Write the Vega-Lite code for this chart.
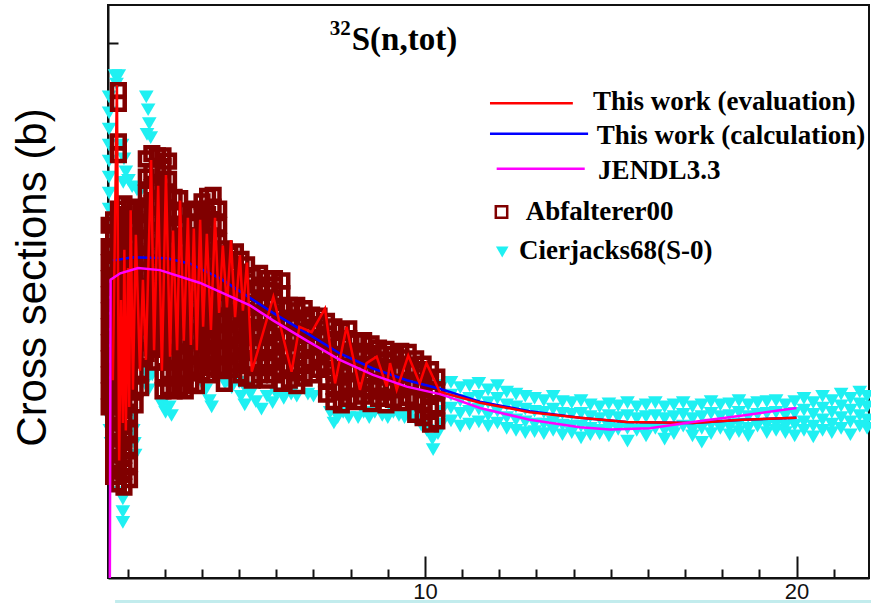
{
  "$schema": "https://vega.github.io/schema/vega-lite/v6.json",
  "width": 761,
  "height": 573,
  "autosize": "none",
  "padding": {"left": 108, "top": 5, "right": 2, "bottom": 25},
  "background": "white",
  "config": {
    "view": {"stroke": "#111", "strokeWidth": 2},
    "axis": {"domainColor": "#111", "domainWidth": 2, "tickColor": "#111", "tickWidth": 2, "grid": false}
  },
  "datasets": {
    "cy": [
      {"x":1.50,"y":4.50},{"x":1.50,"y":4.35},{"x":1.50,"y":4.20},{"x":1.50,"y":4.05},{"x":1.50,"y":3.90},{"x":1.50,"y":3.75},{"x":1.50,"y":3.60},{"x":1.50,"y":3.45},
      {"x":1.50,"y":1.50},{"x":1.52,"y":1.38},{"x":1.55,"y":1.26},
      {"x":1.66,"y":4.70},{"x":1.76,"y":4.70},{"x":1.70,"y":4.62},
      {"x":1.85,"y":4.05},{"x":1.90,"y":3.92},{"x":1.95,"y":3.80},{"x":2.02,"y":3.72},{"x":1.88,"y":3.70},{"x":2.12,"y":3.66},{"x":2.25,"y":3.63},{"x":2.35,"y":3.62},
      {"x":2.50,"y":4.50},{"x":2.55,"y":4.38},{"x":2.58,"y":4.25},{"x":2.52,"y":4.15},{"x":2.62,"y":4.12},
      {"x":1.87,"y":0.74},{"x":1.87,"y":0.62},{"x":1.87,"y":0.52},{"x":1.80,"y":0.80},
      {"x":2.12,"y":1.50},{"x":2.15,"y":1.38},{"x":2.18,"y":1.26},{"x":2.20,"y":1.15},
      {"x":2.45,"y":1.95},{"x":2.50,"y":1.84},{"x":2.56,"y":1.76},{"x":2.66,"y":1.90},
      {"x":2.92,"y":1.62},{"x":3.02,"y":1.55},{"x":3.12,"y":1.60},{"x":3.18,"y":1.52},
      {"x":4.10,"y":1.76},{"x":4.20,"y":1.66},{"x":4.26,"y":1.60},
      {"x":4.62,"y":1.82},{"x":4.80,"y":1.78},{"x":5.00,"y":1.83},{"x":5.15,"y":1.78},
      {"x":5.05,"y":1.70},{"x":5.15,"y":1.62},{"x":5.30,"y":1.72},{"x":5.45,"y":1.65},{"x":5.60,"y":1.58},{"x":5.75,"y":1.70},{"x":5.90,"y":1.64},
      {"x":6.00,"y":1.72},{"x":6.20,"y":1.68},{"x":6.40,"y":1.72},{"x":6.55,"y":1.70},
      {"x":6.85,"y":1.72},{"x":7.00,"y":1.70},
      {"x":7.45,"y":1.55},{"x":7.55,"y":1.45},{"x":7.65,"y":1.50},{"x":7.80,"y":1.55},{"x":7.95,"y":1.50},
      {"x":8.20,"y":1.50},{"x":8.35,"y":1.55},{"x":8.50,"y":1.50},{"x":8.65,"y":1.55},
      {"x":8.85,"y":1.52},{"x":9.00,"y":1.50},{"x":9.15,"y":1.55},{"x":9.30,"y":1.52},{"x":9.45,"y":1.50},{"x":9.60,"y":1.54},{"x":9.75,"y":1.48},{"x":9.90,"y":1.43},
      {"x":10.05,"y":1.38},{"x":10.20,"y":1.30},{"x":10.22,"y":1.20},{"x":10.35,"y":1.35},
      {"x":10.45,"y":1.80},{"x":10.45,"y":1.68},{"x":10.45,"y":1.56},{"x":10.45,"y":1.44},
      {"x":10.70,"y":1.83},{"x":10.70,"y":1.71},{"x":10.70,"y":1.59},{"x":10.70,"y":1.47},
      {"x":10.95,"y":1.78},{"x":10.95,"y":1.66},{"x":10.95,"y":1.54},{"x":10.95,"y":1.42},
      {"x":11.20,"y":1.80},{"x":11.20,"y":1.68},{"x":11.20,"y":1.56},{"x":11.20,"y":1.44},
      {"x":11.45,"y":1.82},{"x":11.45,"y":1.70},{"x":11.45,"y":1.58},{"x":11.45,"y":1.46},
      {"x":11.70,"y":1.76},{"x":11.70,"y":1.64},{"x":11.70,"y":1.52},{"x":11.70,"y":1.42},
      {"x":11.95,"y":1.80},{"x":11.95,"y":1.68},{"x":11.95,"y":1.56},{"x":11.95,"y":1.45},
      {"x":12.20,"y":1.74},{"x":12.20,"y":1.62},{"x":12.20,"y":1.50},{"x":12.20,"y":1.40},
      {"x":12.45,"y":1.72},{"x":12.45,"y":1.60},{"x":12.45,"y":1.48},{"x":12.45,"y":1.38},
      {"x":12.70,"y":1.70},{"x":12.70,"y":1.58},{"x":12.70,"y":1.46},{"x":12.70,"y":1.36},
      {"x":12.95,"y":1.68},{"x":12.95,"y":1.56},{"x":12.95,"y":1.44},{"x":12.95,"y":1.37},
      {"x":13.20,"y":1.66},{"x":13.20,"y":1.55},{"x":13.20,"y":1.44},{"x":13.20,"y":1.35},
      {"x":13.45,"y":1.70},{"x":13.45,"y":1.58},{"x":13.45,"y":1.46},{"x":13.45,"y":1.38},
      {"x":13.70,"y":1.65},{"x":13.70,"y":1.54},{"x":13.70,"y":1.43},{"x":13.70,"y":1.34},
      {"x":13.95,"y":1.64},{"x":13.95,"y":1.53},{"x":13.95,"y":1.42},{"x":13.95,"y":1.36},
      {"x":14.20,"y":1.66},{"x":14.20,"y":1.54},{"x":14.20,"y":1.42},{"x":14.20,"y":1.31},
      {"x":14.45,"y":1.62},{"x":14.45,"y":1.51},{"x":14.45,"y":1.40},{"x":14.45,"y":1.34},
      {"x":14.70,"y":1.60},{"x":14.70,"y":1.49},{"x":14.70,"y":1.38},{"x":14.70,"y":1.35},
      {"x":14.95,"y":1.63},{"x":14.95,"y":1.52},{"x":14.95,"y":1.41},{"x":14.95,"y":1.33},
      {"x":15.20,"y":1.61},{"x":15.20,"y":1.50},{"x":15.20,"y":1.39},
      {"x":15.45,"y":1.64},{"x":15.45,"y":1.52},{"x":15.45,"y":1.40},{"x":15.45,"y":1.28},
      {"x":15.70,"y":1.60},{"x":15.70,"y":1.49},{"x":15.70,"y":1.38},
      {"x":15.95,"y":1.62},{"x":15.95,"y":1.51},{"x":15.95,"y":1.40},{"x":15.95,"y":1.33},
      {"x":16.20,"y":1.64},{"x":16.20,"y":1.52},{"x":16.20,"y":1.40},
      {"x":16.45,"y":1.60},{"x":16.45,"y":1.49},{"x":16.45,"y":1.38},{"x":16.45,"y":1.30},
      {"x":16.70,"y":1.62},{"x":16.70,"y":1.51},{"x":16.70,"y":1.40},{"x":16.70,"y":1.35},
      {"x":16.95,"y":1.64},{"x":16.95,"y":1.53},{"x":16.95,"y":1.42},
      {"x":17.20,"y":1.60},{"x":17.20,"y":1.49},{"x":17.20,"y":1.38},{"x":17.20,"y":1.33},
      {"x":17.45,"y":1.62},{"x":17.45,"y":1.51},{"x":17.45,"y":1.40},{"x":17.45,"y":1.27},
      {"x":17.70,"y":1.65},{"x":17.70,"y":1.54},{"x":17.70,"y":1.43},{"x":17.70,"y":1.35},
      {"x":17.95,"y":1.62},{"x":17.95,"y":1.51},{"x":17.95,"y":1.40},
      {"x":18.20,"y":1.63},{"x":18.20,"y":1.52},{"x":18.20,"y":1.41},{"x":18.20,"y":1.34},
      {"x":18.45,"y":1.66},{"x":18.45,"y":1.55},{"x":18.45,"y":1.44},{"x":18.45,"y":1.37},
      {"x":18.70,"y":1.62},{"x":18.70,"y":1.51},{"x":18.70,"y":1.40},{"x":18.70,"y":1.33},
      {"x":18.95,"y":1.64},{"x":18.95,"y":1.53},{"x":18.95,"y":1.42},
      {"x":19.20,"y":1.65},{"x":19.20,"y":1.54},{"x":19.20,"y":1.43},{"x":19.20,"y":1.36},
      {"x":19.45,"y":1.66},{"x":19.45,"y":1.55},{"x":19.45,"y":1.44},{"x":19.45,"y":1.38},
      {"x":19.70,"y":1.62},{"x":19.70,"y":1.52},{"x":19.70,"y":1.42},{"x":19.70,"y":1.36},
      {"x":19.95,"y":1.65},{"x":19.95,"y":1.54},{"x":19.95,"y":1.43},{"x":19.95,"y":1.33},
      {"x":20.20,"y":1.68},{"x":20.20,"y":1.57},{"x":20.20,"y":1.46},{"x":20.20,"y":1.38},
      {"x":20.45,"y":1.64},{"x":20.45,"y":1.53},{"x":20.45,"y":1.42},{"x":20.45,"y":1.32},
      {"x":20.70,"y":1.70},{"x":20.70,"y":1.59},{"x":20.70,"y":1.48},{"x":20.70,"y":1.38},
      {"x":20.95,"y":1.66},{"x":20.95,"y":1.55},{"x":20.95,"y":1.44},{"x":20.95,"y":1.36},
      {"x":21.20,"y":1.72},{"x":21.20,"y":1.61},{"x":21.20,"y":1.50},{"x":21.20,"y":1.40},
      {"x":21.45,"y":1.68},{"x":21.45,"y":1.57},{"x":21.45,"y":1.46},{"x":21.45,"y":1.34},
      {"x":21.70,"y":1.74},{"x":21.70,"y":1.63},{"x":21.70,"y":1.52},{"x":21.70,"y":1.42},
      {"x":21.90,"y":1.70},{"x":21.90,"y":1.60},{"x":21.90,"y":1.48},{"x":21.90,"y":1.40}
    ],
    "br": [
      {"x":1.50,"y":1.6},{"x":1.50,"y":1.75},{"x":1.50,"y":1.9},{"x":1.50,"y":2.05},{"x":1.50,"y":2.2},{"x":1.50,"y":2.35},{"x":1.50,"y":2.5},{"x":1.50,"y":2.65},{"x":1.50,"y":2.8},{"x":1.50,"y":2.95},{"x":1.50,"y":3.1},{"x":1.50,"y":3.3},
      {"x":1.62,"y":0.95},{"x":1.62,"y":1.1},{"x":1.62,"y":1.25},{"x":1.62,"y":1.4},{"x":1.62,"y":1.55},{"x":1.62,"y":1.7},{"x":1.62,"y":1.85},{"x":1.62,"y":2.0},{"x":1.62,"y":2.15},{"x":1.62,"y":2.3},{"x":1.62,"y":2.45},{"x":1.62,"y":2.6},{"x":1.62,"y":2.75},{"x":1.62,"y":2.9},{"x":1.62,"y":3.05},{"x":1.62,"y":3.2},{"x":1.62,"y":3.35},
      {"x":1.75,"y":0.88},{"x":1.75,"y":1.03},{"x":1.75,"y":1.18},{"x":1.75,"y":1.33},{"x":1.75,"y":1.48},{"x":1.75,"y":1.63},{"x":1.75,"y":1.78},{"x":1.75,"y":1.93},{"x":1.75,"y":2.08},{"x":1.75,"y":2.23},{"x":1.75,"y":2.38},{"x":1.75,"y":2.53},{"x":1.75,"y":2.68},{"x":1.75,"y":2.83},{"x":1.75,"y":2.98},{"x":1.75,"y":3.13},{"x":1.75,"y":3.28},{"x":1.75,"y":3.45},{"x":1.75,"y":3.96},{"x":1.75,"y":4.08},{"x":1.75,"y":4.44},{"x":1.75,"y":4.56},
      {"x":1.90,"y":0.85},{"x":1.90,"y":1.0},{"x":1.90,"y":1.15},{"x":1.90,"y":1.3},{"x":1.90,"y":1.45},{"x":1.90,"y":1.6},{"x":1.90,"y":1.75},{"x":1.90,"y":1.9},{"x":1.90,"y":2.05},{"x":1.90,"y":2.2},{"x":1.90,"y":2.35},{"x":1.90,"y":2.5},{"x":1.90,"y":2.65},{"x":1.90,"y":2.8},{"x":1.90,"y":2.95},{"x":1.90,"y":3.1},{"x":1.90,"y":3.25},{"x":1.90,"y":3.4},{"x":1.90,"y":3.5},
      {"x":2.05,"y":0.92},{"x":2.05,"y":1.07},{"x":2.05,"y":1.22},{"x":2.05,"y":1.37},{"x":2.05,"y":1.52},{"x":2.05,"y":1.67},{"x":2.05,"y":1.82},{"x":2.05,"y":1.97},{"x":2.05,"y":2.12},{"x":2.05,"y":2.27},{"x":2.05,"y":2.42},{"x":2.05,"y":2.57},{"x":2.05,"y":2.72},{"x":2.05,"y":2.87},{"x":2.05,"y":3.02},{"x":2.05,"y":3.17},{"x":2.05,"y":3.32},{"x":2.05,"y":3.47},
      {"x":2.20,"y":1.62},{"x":2.20,"y":1.77},{"x":2.20,"y":1.92},{"x":2.20,"y":2.07},{"x":2.20,"y":2.22},{"x":2.20,"y":2.37},{"x":2.20,"y":2.52},{"x":2.20,"y":2.67},{"x":2.20,"y":2.82},{"x":2.20,"y":2.97},{"x":2.20,"y":3.12},{"x":2.20,"y":3.27},{"x":2.20,"y":3.45},
      {"x":2.35,"y":1.78},{"x":2.35,"y":1.93},{"x":2.35,"y":2.08},{"x":2.35,"y":2.23},{"x":2.35,"y":2.38},{"x":2.35,"y":2.53},{"x":2.35,"y":2.68},{"x":2.35,"y":2.83},{"x":2.35,"y":2.98},{"x":2.35,"y":3.13},{"x":2.35,"y":3.28},{"x":2.35,"y":3.42},
      {"x":2.50,"y":2.1},{"x":2.50,"y":2.25},{"x":2.50,"y":2.4},{"x":2.50,"y":2.55},{"x":2.50,"y":2.7},{"x":2.50,"y":2.85},{"x":2.50,"y":3.0},{"x":2.50,"y":3.15},{"x":2.50,"y":3.3},{"x":2.50,"y":3.45},{"x":2.50,"y":3.6},{"x":2.50,"y":3.75},{"x":2.50,"y":3.92},
      {"x":2.65,"y":2.15},{"x":2.65,"y":2.3},{"x":2.65,"y":2.45},{"x":2.65,"y":2.6},{"x":2.65,"y":2.75},{"x":2.65,"y":2.9},{"x":2.65,"y":3.05},{"x":2.65,"y":3.2},{"x":2.65,"y":3.35},{"x":2.65,"y":3.5},{"x":2.65,"y":3.65},{"x":2.65,"y":3.8},{"x":2.65,"y":3.97},
      {"x":2.80,"y":2.02},{"x":2.80,"y":2.17},{"x":2.80,"y":2.32},{"x":2.80,"y":2.47},{"x":2.80,"y":2.62},{"x":2.80,"y":2.77},{"x":2.80,"y":2.92},{"x":2.80,"y":3.07},{"x":2.80,"y":3.22},{"x":2.80,"y":3.37},{"x":2.80,"y":3.52},{"x":2.80,"y":3.67},{"x":2.80,"y":3.82},{"x":2.80,"y":3.95},
      {"x":2.95,"y":1.75},{"x":2.95,"y":1.9},{"x":2.95,"y":2.05},{"x":2.95,"y":2.2},{"x":2.95,"y":2.35},{"x":2.95,"y":2.5},{"x":2.95,"y":2.65},{"x":2.95,"y":2.8},{"x":2.95,"y":2.95},{"x":2.95,"y":3.1},{"x":2.95,"y":3.25},{"x":2.95,"y":3.4},{"x":2.95,"y":3.55},{"x":2.95,"y":3.7},{"x":2.95,"y":3.85},{"x":2.95,"y":3.95},
      {"x":3.10,"y":1.78},{"x":3.10,"y":1.93},{"x":3.10,"y":2.08},{"x":3.10,"y":2.23},{"x":3.10,"y":2.38},{"x":3.10,"y":2.53},{"x":3.10,"y":2.68},{"x":3.10,"y":2.83},{"x":3.10,"y":2.98},{"x":3.10,"y":3.13},{"x":3.10,"y":3.28},{"x":3.10,"y":3.43},{"x":3.10,"y":3.58},{"x":3.10,"y":3.73},{"x":3.10,"y":3.9},
      {"x":3.25,"y":1.75},{"x":3.25,"y":1.9},{"x":3.25,"y":2.05},{"x":3.25,"y":2.2},{"x":3.25,"y":2.35},{"x":3.25,"y":2.5},{"x":3.25,"y":2.65},{"x":3.25,"y":2.8},{"x":3.25,"y":2.95},{"x":3.25,"y":3.1},{"x":3.25,"y":3.25},{"x":3.25,"y":3.4},{"x":3.25,"y":3.56},
      {"x":3.40,"y":1.78},{"x":3.40,"y":1.93},{"x":3.40,"y":2.08},{"x":3.40,"y":2.23},{"x":3.40,"y":2.38},{"x":3.40,"y":2.53},{"x":3.40,"y":2.68},{"x":3.40,"y":2.83},{"x":3.40,"y":2.98},{"x":3.40,"y":3.13},{"x":3.40,"y":3.28},{"x":3.40,"y":3.43},{"x":3.40,"y":3.55},
      {"x":3.55,"y":1.75},{"x":3.55,"y":1.9},{"x":3.55,"y":2.05},{"x":3.55,"y":2.2},{"x":3.55,"y":2.35},{"x":3.55,"y":2.5},{"x":3.55,"y":2.65},{"x":3.55,"y":2.8},{"x":3.55,"y":2.95},{"x":3.55,"y":3.1},{"x":3.55,"y":3.2},
      {"x":3.70,"y":1.82},{"x":3.70,"y":1.97},{"x":3.70,"y":2.12},{"x":3.70,"y":2.27},{"x":3.70,"y":2.42},{"x":3.70,"y":2.57},{"x":3.70,"y":2.72},{"x":3.70,"y":2.87},{"x":3.70,"y":3.02},{"x":3.70,"y":3.17},{"x":3.70,"y":3.32},{"x":3.70,"y":3.42},
      {"x":3.85,"y":1.8},{"x":3.85,"y":1.95},{"x":3.85,"y":2.1},{"x":3.85,"y":2.25},{"x":3.85,"y":2.4},{"x":3.85,"y":2.55},{"x":3.85,"y":2.7},{"x":3.85,"y":2.85},{"x":3.85,"y":3.0},{"x":3.85,"y":3.15},{"x":3.85,"y":3.3},{"x":3.85,"y":3.45},
      {"x":4.00,"y":1.92},{"x":4.00,"y":2.07},{"x":4.00,"y":2.22},{"x":4.00,"y":2.37},{"x":4.00,"y":2.52},{"x":4.00,"y":2.67},{"x":4.00,"y":2.82},{"x":4.00,"y":2.97},{"x":4.00,"y":3.12},{"x":4.00,"y":3.27},{"x":4.00,"y":3.42},{"x":4.00,"y":3.52},
      {"x":4.15,"y":1.9},{"x":4.15,"y":2.05},{"x":4.15,"y":2.2},{"x":4.15,"y":2.35},{"x":4.15,"y":2.5},{"x":4.15,"y":2.65},{"x":4.15,"y":2.8},{"x":4.15,"y":2.95},{"x":4.15,"y":3.1},{"x":4.15,"y":3.25},{"x":4.15,"y":3.4},{"x":4.15,"y":3.57},
      {"x":4.30,"y":1.97},{"x":4.30,"y":2.12},{"x":4.30,"y":2.27},{"x":4.30,"y":2.42},{"x":4.30,"y":2.57},{"x":4.30,"y":2.72},{"x":4.30,"y":2.87},{"x":4.30,"y":3.02},{"x":4.30,"y":3.17},{"x":4.30,"y":3.32},{"x":4.30,"y":3.47},{"x":4.30,"y":3.58},
      {"x":4.45,"y":1.95},{"x":4.45,"y":2.1},{"x":4.45,"y":2.25},{"x":4.45,"y":2.4},{"x":4.45,"y":2.55},{"x":4.45,"y":2.7},{"x":4.45,"y":2.85},{"x":4.45,"y":3.0},{"x":4.45,"y":3.15},{"x":4.45,"y":3.3},{"x":4.45,"y":3.45},
      {"x":4.60,"y":1.82},{"x":4.60,"y":1.97},{"x":4.60,"y":2.12},{"x":4.60,"y":2.27},{"x":4.60,"y":2.42},{"x":4.60,"y":2.57},{"x":4.60,"y":2.72},{"x":4.60,"y":2.87},{"x":4.60,"y":3.02},{"x":4.60,"y":3.08},
      {"x":4.75,"y":1.95},{"x":4.75,"y":2.1},{"x":4.75,"y":2.25},{"x":4.75,"y":2.4},{"x":4.75,"y":2.55},{"x":4.75,"y":2.7},{"x":4.75,"y":2.85},{"x":4.75,"y":3.03},
      {"x":4.90,"y":2.0},{"x":4.90,"y":2.15},{"x":4.90,"y":2.3},{"x":4.90,"y":2.45},{"x":4.90,"y":2.6},{"x":4.90,"y":2.75},{"x":4.90,"y":2.9},{"x":4.90,"y":3.05},
      {"x":5.05,"y":1.9},{"x":5.05,"y":2.05},{"x":5.05,"y":2.2},{"x":5.05,"y":2.35},{"x":5.05,"y":2.5},{"x":5.05,"y":2.65},{"x":5.05,"y":2.8},{"x":5.05,"y":2.98},
      {"x":5.20,"y":1.87},{"x":5.20,"y":2.02},{"x":5.20,"y":2.17},{"x":5.20,"y":2.32},{"x":5.20,"y":2.47},{"x":5.20,"y":2.62},{"x":5.20,"y":2.77},{"x":5.20,"y":2.93},
      {"x":5.35,"y":1.85},{"x":5.35,"y":1.99},{"x":5.35,"y":2.13},{"x":5.35,"y":2.27},{"x":5.35,"y":2.41},{"x":5.35,"y":2.55},{"x":5.35,"y":2.69},{"x":5.35,"y":2.83},
      {"x":5.55,"y":1.9},{"x":5.55,"y":2.04},{"x":5.55,"y":2.18},{"x":5.55,"y":2.32},{"x":5.55,"y":2.46},{"x":5.55,"y":2.6},{"x":5.55,"y":2.74},{"x":5.55,"y":2.85},
      {"x":5.75,"y":1.85},{"x":5.75,"y":1.99},{"x":5.75,"y":2.13},{"x":5.75,"y":2.27},{"x":5.75,"y":2.41},{"x":5.75,"y":2.55},{"x":5.75,"y":2.69},{"x":5.75,"y":2.8},
      {"x":5.95,"y":1.9},{"x":5.95,"y":2.04},{"x":5.95,"y":2.18},{"x":5.95,"y":2.32},{"x":5.95,"y":2.46},{"x":5.95,"y":2.6},{"x":5.95,"y":2.74},{"x":5.95,"y":2.8},
      {"x":6.15,"y":1.82},{"x":6.15,"y":1.96},{"x":6.15,"y":2.1},{"x":6.15,"y":2.24},{"x":6.15,"y":2.38},{"x":6.15,"y":2.52},{"x":6.15,"y":2.66},{"x":6.15,"y":2.78},
      {"x":6.35,"y":1.85},{"x":6.35,"y":1.99},{"x":6.35,"y":2.13},{"x":6.35,"y":2.27},{"x":6.35,"y":2.41},{"x":6.35,"y":2.55},
      {"x":6.55,"y":1.8},{"x":6.55,"y":1.94},{"x":6.55,"y":2.08},{"x":6.55,"y":2.22},{"x":6.55,"y":2.36},{"x":6.55,"y":2.5},{"x":6.55,"y":2.55},
      {"x":6.75,"y":1.87},{"x":6.75,"y":2.01},{"x":6.75,"y":2.15},{"x":6.75,"y":2.29},{"x":6.75,"y":2.43},{"x":6.75,"y":2.52},
      {"x":6.95,"y":1.9},{"x":6.95,"y":2.04},{"x":6.95,"y":2.18},{"x":6.95,"y":2.32},{"x":6.95,"y":2.46},
      {"x":7.15,"y":1.95},{"x":7.15,"y":2.09},{"x":7.15,"y":2.23},{"x":7.15,"y":2.37},{"x":7.15,"y":2.45},
      {"x":7.35,"y":1.72},{"x":7.35,"y":1.86},{"x":7.35,"y":2.0},{"x":7.35,"y":2.14},{"x":7.35,"y":2.28},{"x":7.35,"y":2.4},
      {"x":7.55,"y":1.65},{"x":7.55,"y":1.79},{"x":7.55,"y":1.93},{"x":7.55,"y":2.07},{"x":7.55,"y":2.21},{"x":7.55,"y":2.35},
      {"x":7.75,"y":1.62},{"x":7.75,"y":1.76},{"x":7.75,"y":1.9},{"x":7.75,"y":2.04},{"x":7.75,"y":2.18},{"x":7.75,"y":2.32},
      {"x":7.95,"y":1.68},{"x":7.95,"y":1.82},{"x":7.95,"y":1.96},{"x":7.95,"y":2.1},{"x":7.95,"y":2.24},{"x":7.95,"y":2.33},
      {"x":8.15,"y":1.65},{"x":8.15,"y":1.79},{"x":8.15,"y":1.93},{"x":8.15,"y":2.07},{"x":8.15,"y":2.21},
      {"x":8.35,"y":1.7},{"x":8.35,"y":1.84},{"x":8.35,"y":1.98},{"x":8.35,"y":2.12},{"x":8.35,"y":2.22},
      {"x":8.55,"y":1.63},{"x":8.55,"y":1.77},{"x":8.55,"y":1.91},{"x":8.55,"y":2.05},{"x":8.55,"y":2.19},
      {"x":8.75,"y":1.68},{"x":8.75,"y":1.82},{"x":8.75,"y":1.96},{"x":8.75,"y":2.1},{"x":8.75,"y":2.15},
      {"x":8.95,"y":1.62},{"x":8.95,"y":1.76},{"x":8.95,"y":1.9},{"x":8.95,"y":2.04},{"x":8.95,"y":2.14},
      {"x":9.15,"y":1.67},{"x":9.15,"y":1.81},{"x":9.15,"y":1.95},{"x":9.15,"y":2.09},
      {"x":9.35,"y":1.64},{"x":9.35,"y":1.78},{"x":9.35,"y":1.92},{"x":9.35,"y":2.06},{"x":9.35,"y":2.12},
      {"x":9.55,"y":1.69},{"x":9.55,"y":1.83},{"x":9.55,"y":1.97},{"x":9.55,"y":2.11},
      {"x":9.75,"y":1.53},{"x":9.75,"y":1.67},{"x":9.75,"y":1.81},{"x":9.75,"y":1.95},{"x":9.75,"y":2.05},
      {"x":9.95,"y":1.5},{"x":9.95,"y":1.64},{"x":9.95,"y":1.78},{"x":9.95,"y":1.92},{"x":9.95,"y":2.0},
      {"x":10.15,"y":1.44},{"x":10.15,"y":1.58},{"x":10.15,"y":1.72},{"x":10.15,"y":1.86},{"x":10.15,"y":1.95},
      {"x":10.32,"y":1.47},{"x":10.32,"y":1.61},{"x":10.32,"y":1.75},{"x":10.32,"y":1.88}
    ],
    "red": [
      {"x":1.60,"y":1.85},{"x":1.71,"y":4.61},{"x":1.77,"y":1.10},{"x":1.82,"y":2.60},{"x":1.87,"y":1.45},{"x":1.91,"y":3.07},{"x":1.95,"y":1.38},{"x":2.01,"y":2.90},{"x":2.04,"y":1.60},{"x":2.08,"y":3.44},{"x":2.14,"y":1.76},{"x":2.22,"y":3.21},{"x":2.33,"y":1.94},{"x":2.41,"y":2.79},{"x":2.49,"y":2.04},{"x":2.63,"y":3.91},{"x":2.71,"y":2.13},{"x":2.82,"y":3.67},{"x":2.92,"y":1.94},{"x":3.03,"y":3.77},{"x":3.14,"y":2.07},{"x":3.22,"y":3.25},{"x":3.33,"y":2.13},{"x":3.41,"y":3.53},{"x":3.51,"y":2.22},{"x":3.62,"y":3.37},{"x":3.70,"y":2.18},{"x":3.78,"y":3.27},{"x":3.86,"y":2.13},{"x":3.95,"y":3.35},{"x":4.03,"y":2.35},{"x":4.13,"y":3.22},{"x":4.24,"y":2.32},{"x":4.35,"y":3.37},{"x":4.46,"y":2.48},{"x":4.56,"y":3.11},{"x":4.67,"y":2.53},{"x":4.78,"y":3.16},{"x":4.89,"y":2.44},{"x":5.02,"y":3.02},{"x":5.10,"y":2.50},{"x":5.21,"y":2.95},{"x":5.34,"y":1.93},{"x":5.92,"y":2.63},{"x":6.41,"y":1.93},{"x":6.62,"y":2.35},{"x":6.95,"y":2.30},{"x":7.31,"y":2.52},{"x":7.58,"y":1.82},{"x":7.89,"y":2.35},{"x":8.25,"y":1.76},{"x":8.43,"y":2.01},{"x":8.70,"y":2.07},{"x":8.97,"y":1.79},{"x":9.06,"y":2.01},{"x":9.24,"y":1.76},{"x":9.55,"y":2.08},{"x":9.86,"y":1.82},{"x":10.04,"y":2.01},{"x":10.40,"y":1.74},
      {"x":11.48,"y":1.64},{"x":12.82,"y":1.55},{"x":14.17,"y":1.50},{"x":15.43,"y":1.46},{"x":17.21,"y":1.45},{"x":18.55,"y":1.48},{"x":20.0,"y":1.50}
    ],
    "blu": [
      {"x":1.60,"y":2.97},{"x":2.14,"y":3.0},{"x":3.06,"y":2.99},{"x":3.68,"y":2.94},{"x":4.5,"y":2.8},{"x":5.29,"y":2.62},{"x":5.91,"y":2.48},{"x":6.82,"y":2.29},{"x":7.71,"y":2.10},{"x":8.6,"y":1.96},{"x":9.51,"y":1.85},{"x":10.4,"y":1.77},{"x":10.67,"y":1.74},{"x":11.48,"y":1.65},{"x":12.82,"y":1.56},{"x":14.17,"y":1.50},{"x":15.43,"y":1.46},{"x":17.21,"y":1.45},{"x":18.55,"y":1.48},{"x":20.0,"y":1.50}
    ],
    "mag": [
      {"x":1.52,"y":0},{"x":1.54,"y":2.79},{"x":1.8,"y":2.85},{"x":2.28,"y":2.90},{"x":2.87,"y":2.88},{"x":3.95,"y":2.76},{"x":5.29,"y":2.55},{"x":5.91,"y":2.41},{"x":6.82,"y":2.22},{"x":7.71,"y":2.04},{"x":8.6,"y":1.90},{"x":9.51,"y":1.79},{"x":10.4,"y":1.72},{"x":10.67,"y":1.69},{"x":11.48,"y":1.59},{"x":12.82,"y":1.48},{"x":14.17,"y":1.41},{"x":14.98,"y":1.39},{"x":16.05,"y":1.40},{"x":17.21,"y":1.46},{"x":18.55,"y":1.52},{"x":20.0,"y":1.59}
    ],
    "legline": [
      {"x":11.75,"x2":13.98,"y":4.442,"s":"eval"},
      {"x":11.75,"x2":14.39,"y":4.156,"s":"calc"},
      {"x":11.93,"x2":14.30,"y":3.829,"s":"jendl"}
    ],
    "legtext": [
      {"x":14.52,"y":4.374,"t":"This work (evaluation)"},
      {"x":14.62,"y":4.063,"t":"This work (calculation)"},
      {"x":14.66,"y":3.736,"t":"JENDL3.3"},
      {"x":12.71,"y":3.346,"t":"Abfalterer00"},
      {"x":12.53,"y":2.988,"t":"Cierjacks68(S-0)"}
    ]
  },
  "resolve": {"axis": {"x": "independent", "y": "independent"}},
  "layer": [
    {
      "data": {"name": "cy"},
      "mark": {"type": "point", "shape": "triangle-down", "filled": true, "color": "#1ff0f2", "size": 215, "opacity": 1},
      "encoding": {
        "x": {"field": "x", "type": "quantitative", "scale": {"domain": [1.47, 21.95], "nice": false, "zero": false},
          "axis": {"orient": "bottom", "values": [2,3,4,5,6,7,8,9,11,12,13,14,15,16,17,18,19,21], "tickSize": -9, "labels": false, "title": null, "domain": true}},
        "y": {"field": "y", "type": "quantitative", "scale": {"domain": [0, 5.36], "nice": false, "zero": false},
          "axis": {"orient": "left", "values": [5], "tickSize": -10, "labels": false, "domain": true, "title": "Cross sections (b)", "titleFontSize": 42, "titleFont": "Liberation Sans", "titleFontWeight": "normal", "titleColor": "#000", "titleAngle": -90, "titleX": -63, "titleY": 272, "titleAlign": "center", "titleBaseline": "alphabetic"}}
      }
    },
    {
      "data": {"name": "br"},
      "mark": {"type": "point", "shape": "square", "filled": false, "stroke": "#800000", "strokeWidth": 4.5, "size": 160, "opacity": 1},
      "encoding": {
        "x": {"field": "x", "type": "quantitative", "scale": {"domain": [1.47, 21.95], "nice": false, "zero": false},
          "axis": {"orient": "bottom", "values": [10, 20], "tickSize": -22, "labels": true, "labelFontSize": 22, "labelFont": "Liberation Sans", "labelColor": "#111", "labelPadding": 25, "title": null, "domain": false}},
        "y": {"field": "y", "type": "quantitative", "scale": {"domain": [0, 5.36], "nice": false, "zero": false}, "axis": null}
      }
    },
    {
      "data": {"name": "blu"},
      "mark": {"type": "line", "color": "#0000ff", "strokeWidth": 2.5},
      "encoding": {
        "x": {"field": "x", "type": "quantitative", "scale": {"domain": [1.47, 21.95], "nice": false, "zero": false}, "axis": null},
        "y": {"field": "y", "type": "quantitative", "scale": {"domain": [0, 5.36], "nice": false, "zero": false}, "axis": null}
      }
    },
    {
      "data": {"name": "red"},
      "mark": {"type": "line", "color": "#ff0000", "strokeWidth": 2.5},
      "encoding": {
        "x": {"field": "x", "type": "quantitative", "scale": {"domain": [1.47, 21.95], "nice": false, "zero": false}, "axis": null},
        "y": {"field": "y", "type": "quantitative", "scale": {"domain": [0, 5.36], "nice": false, "zero": false}, "axis": null}
      }
    },
    {
      "data": {"name": "mag"},
      "mark": {"type": "line", "color": "#ff00ff", "strokeWidth": 2.5},
      "encoding": {
        "x": {"field": "x", "type": "quantitative", "scale": {"domain": [1.47, 21.95], "nice": false, "zero": false}, "axis": null},
        "y": {"field": "y", "type": "quantitative", "scale": {"domain": [0, 5.36], "nice": false, "zero": false}, "axis": null}
      }
    },
    {
      "data": {"name": "legline"},
      "mark": {"type": "rule", "strokeWidth": 2.5},
      "encoding": {
        "x": {"field": "x", "type": "quantitative", "scale": {"domain": [1.47, 21.95], "nice": false, "zero": false}, "axis": null},
        "x2": {"field": "x2"},
        "y": {"field": "y", "type": "quantitative", "scale": {"domain": [0, 5.36], "nice": false, "zero": false}, "axis": null},
        "color": {"field": "s", "type": "nominal", "scale": {"domain": ["eval", "calc", "jendl"], "range": ["#ff0000", "#0000ff", "#ff00ff"]}, "legend": null}
      }
    },
    {
      "data": {"values": [{"x": 12.06, "y": 3.423}]},
      "mark": {"type": "point", "shape": "square", "filled": false, "stroke": "#800000", "strokeWidth": 2.5, "size": 130, "opacity": 1},
      "encoding": {
        "x": {"field": "x", "type": "quantitative", "scale": {"domain": [1.47, 21.95], "nice": false, "zero": false}, "axis": null},
        "y": {"field": "y", "type": "quantitative", "scale": {"domain": [0, 5.36], "nice": false, "zero": false}, "axis": null}
      }
    },
    {
      "data": {"values": [{"x": 12.08, "y": 3.05}]},
      "mark": {"type": "point", "shape": "triangle-down", "filled": true, "color": "#1ff0f2", "size": 160, "opacity": 1},
      "encoding": {
        "x": {"field": "x", "type": "quantitative", "scale": {"domain": [1.47, 21.95], "nice": false, "zero": false}, "axis": null},
        "y": {"field": "y", "type": "quantitative", "scale": {"domain": [0, 5.36], "nice": false, "zero": false}, "axis": null}
      }
    },
    {
      "data": {"name": "legtext"},
      "mark": {"type": "text", "align": "left", "baseline": "alphabetic", "font": "Liberation Serif", "fontSize": 27, "fontWeight": "bold", "color": "#000"},
      "encoding": {
        "x": {"field": "x", "type": "quantitative", "scale": {"domain": [1.47, 21.95], "nice": false, "zero": false}, "axis": null},
        "y": {"field": "y", "type": "quantitative", "scale": {"domain": [0, 5.36], "nice": false, "zero": false}, "axis": null},
        "text": {"field": "t"}
      }
    },
    {
      "data": {"values": [{"x": 7.44, "y": 5.075, "t": "32"}]},
      "mark": {"type": "text", "align": "left", "baseline": "alphabetic", "font": "Liberation Serif", "fontSize": 21, "fontWeight": "bold", "color": "#000"},
      "encoding": {
        "x": {"field": "x", "type": "quantitative", "scale": {"domain": [1.47, 21.95], "nice": false, "zero": false}, "axis": null},
        "y": {"field": "y", "type": "quantitative", "scale": {"domain": [0, 5.36], "nice": false, "zero": false}, "axis": null},
        "text": {"field": "t"}
      }
    },
    {
      "data": {"values": [{"x": 8.03, "y": 4.935, "t": "S(n,tot)"}]},
      "mark": {"type": "text", "align": "left", "baseline": "alphabetic", "font": "Liberation Serif", "fontSize": 33, "fontWeight": "bold", "color": "#000"},
      "encoding": {
        "x": {"field": "x", "type": "quantitative", "scale": {"domain": [1.47, 21.95], "nice": false, "zero": false}, "axis": null},
        "y": {"field": "y", "type": "quantitative", "scale": {"domain": [0, 5.36], "nice": false, "zero": false}, "axis": null},
        "text": {"field": "t"}
      }
    },
    {
      "data": {"values": [{"x": 1.66, "x2": 22.2, "y": -0.206, "y2": -0.28}]},
      "mark": {"type": "rect", "color": "#c2eced"},
      "encoding": {
        "x": {"field": "x", "type": "quantitative", "scale": {"domain": [1.47, 21.95], "nice": false, "zero": false}, "axis": null},
        "x2": {"field": "x2"},
        "y": {"field": "y", "type": "quantitative", "scale": {"domain": [0, 5.36], "nice": false, "zero": false}, "axis": null},
        "y2": {"field": "y2"}
      }
    }
  ]
}
